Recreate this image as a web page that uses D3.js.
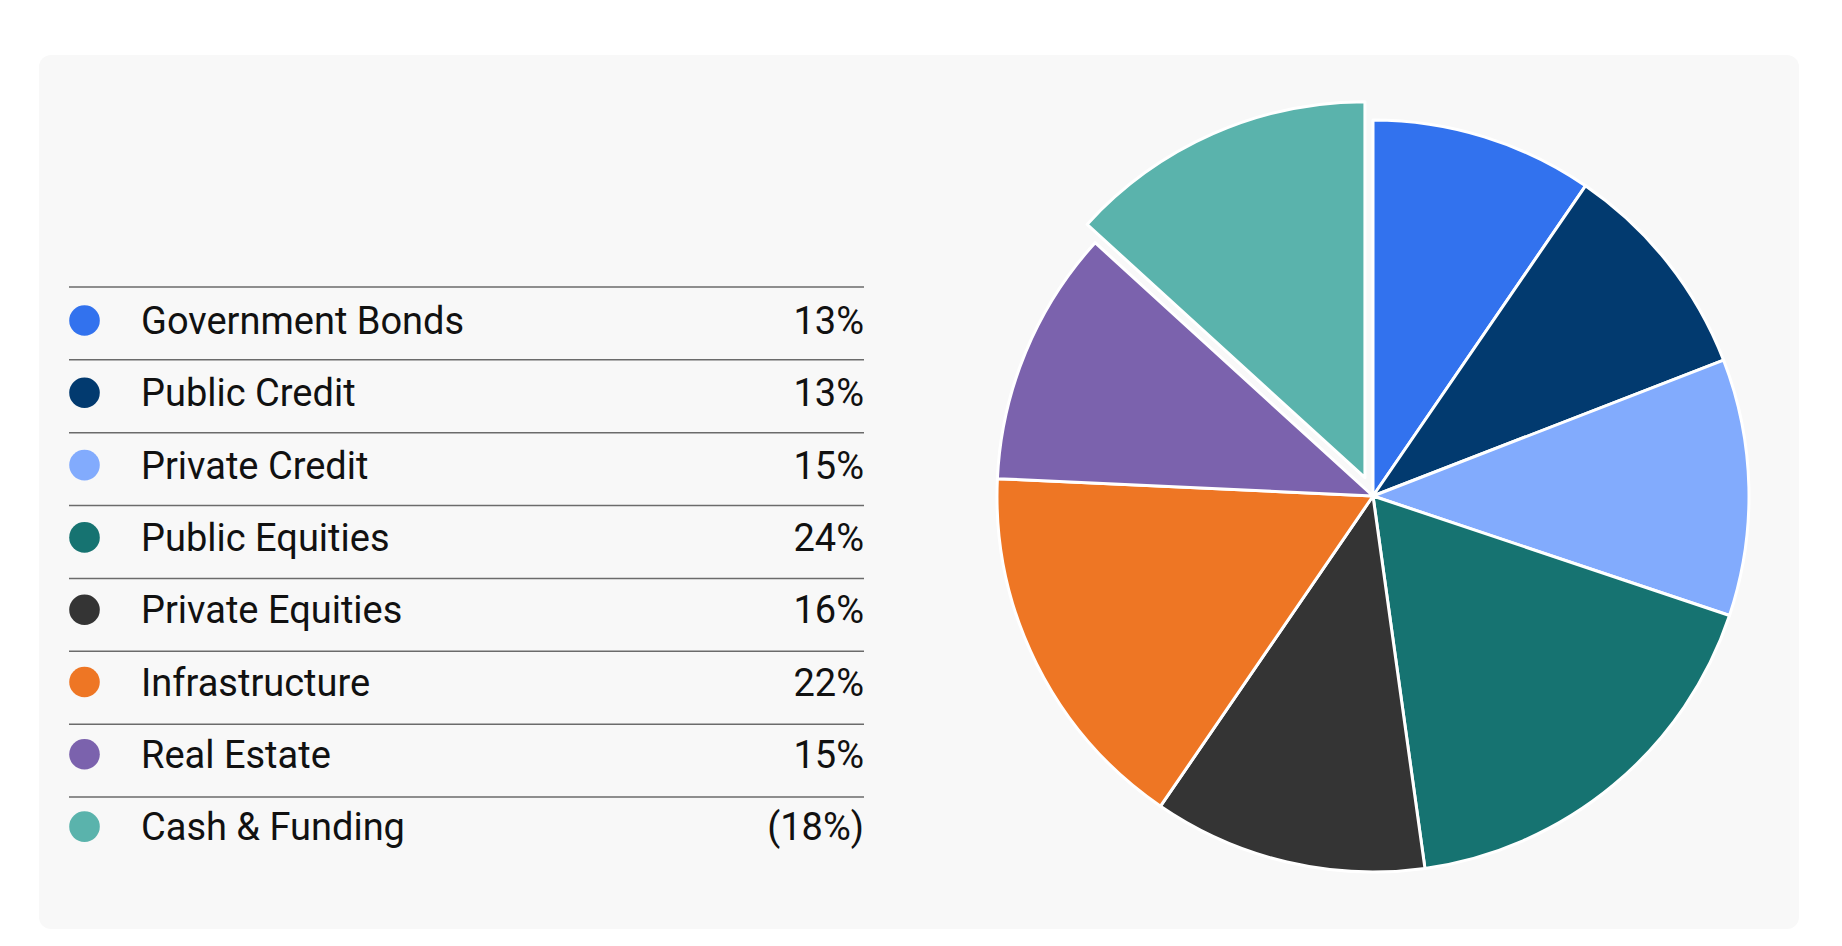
<!DOCTYPE html>
<html>
<head>
<meta charset="utf-8">
<script src="https://cdn.jsdelivr.net/npm/d3@7/dist/d3.min.js"></script>
<style>
  html, body { margin: 0; padding: 0; background: #ffffff; }
  svg { display: block; }
</style>
</head>
<body>
<svg id="chart" width="1842" height="946"></svg>
<script>
const categories = ["Government Bonds", "Public Credit", "Private Credit", "Public Equities", "Private Equities", "Infrastructure", "Real Estate", "Cash & Funding"];
const values = [13, 13, 15, 24, 16, 22, 15, -18];
const colors = ["#3272ee", "#023a6f", "#82abfd", "#167371", "#343434", "#ee7624", "#7b62ad", "#5ab3ac"];

const svg = d3.select("#chart");
const fontFamily = "Roboto, 'Liberation Sans', sans-serif";

// card
svg.append("rect")
  .attr("x", 39).attr("y", 55)
  .attr("width", 1760).attr("height", 874)
  .attr("rx", 12).attr("ry", 12)
  .attr("fill", "#f8f8f8");

// legend
const lineY = d3.scaleLinear().domain([0, 1]).range([287, 287 + 72.86]);
const textY = d3.scaleLinear().domain([0, 1]).range([334, 334 + 72.3]);
const fmt = v => v < 0 ? "(" + Math.abs(v) + "%)" : v + "%";
const rowsData = categories.map((c, i) => ({ c, v: values[i], col: colors[i], i }));
const legend = svg.append("g");

legend.selectAll("line")
  .data(rowsData).join("line")
  .attr("x1", 69).attr("x2", 864)
  .attr("y1", d => lineY(d.i)).attr("y2", d => lineY(d.i))
  .attr("stroke", "#6b6b6b").attr("stroke-width", 1.5);

legend.selectAll("circle")
  .data(rowsData).join("circle")
  .attr("cx", 84.5).attr("cy", d => textY(d.i) - 13.5).attr("r", 15.3)
  .attr("fill", d => d.col);

legend.selectAll("text.lab")
  .data(rowsData).join("text").attr("class", "lab")
  .attr("x", 141).attr("y", d => textY(d.i))
  .attr("font-family", fontFamily).attr("font-size", 38)
  .attr("fill", "#111111")
  .text(d => d.c);

legend.selectAll("text.val")
  .data(rowsData).join("text").attr("class", "val")
  .attr("x", 864).attr("y", d => textY(d.i))
  .attr("text-anchor", "end")
  .attr("font-family", fontFamily).attr("font-size", 38)
  .attr("fill", "#111111")
  .text(d => fmt(d.v));

// pie
const cx = 1373, cy = 496, R = 376, explode = 20;
const pie = d3.pie().sort(null).value(d => Math.abs(d.v));
const arc = d3.arc().innerRadius(0).outerRadius(R);
const data = categories.map((c, i) => ({ c, v: values[i], col: colors[i] }));
const g = svg.append("g").attr("transform", `translate(${cx},${cy})`);
g.selectAll("path")
  .data(pie(data))
  .join("path")
  .attr("d", arc)
  .attr("fill", d => d.data.col)
  .attr("stroke", "#ffffff")
  .attr("stroke-width", 3)
  .attr("stroke-linejoin", "round")
  .attr("transform", d => {
    if (d.data.v >= 0) return null;
    const a = (d.startAngle + d.endAngle) / 2;
    return `translate(${explode * Math.sin(a)},${-explode * Math.cos(a)})`;
  });
</script>
</body>
</html>
